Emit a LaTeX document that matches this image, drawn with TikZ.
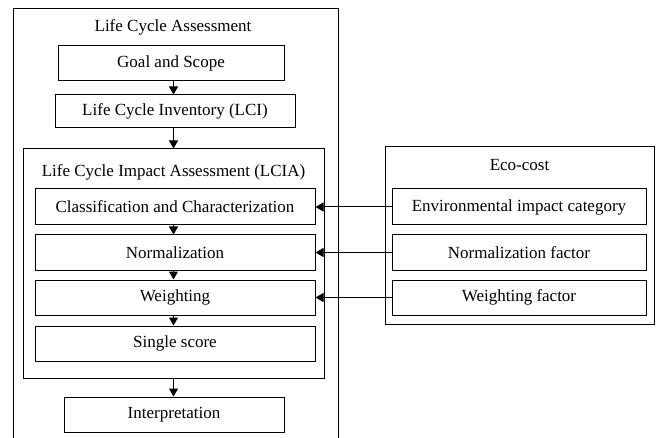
\documentclass[tikz,border=0pt]{standalone}
\usepackage{fontspec}
\setmainfont{Liberation Serif}
\usetikzlibrary{arrows.meta}
\begin{document}
\begin{tikzpicture}[x=1pt,y=-1pt,
  box/.style={draw,line width=1pt,inner sep=0pt,anchor=center,font=\fontsize{17}{19}\selectfont},
  lbl/.style={inner sep=0pt,anchor=center,font=\fontsize{17}{19}\selectfont},
  arr/.style={draw,line width=1pt,-{Triangle[length=8pt,width=9pt]}}]
\useasboundingbox (0,0) rectangle (658,438);
% outer frame (cut off at the bottom)
\draw[line width=1pt] (13,438) -- (13,9) -- (338,9) -- (338,438);
\node[lbl] (lcat) at (173,27) {Life Cycle Assessment};
\node[box,minimum width=226pt,minimum height=35pt] (goal) at (171,63.5) {Goal and Scope};
\node[box,minimum width=240pt,minimum height=33pt] (lci) at (175,111.5) {Life Cycle Inventory (LCI)};
\node[box,minimum width=301pt,minimum height=229pt] (lcia) at (173.5,263.5) {};
\node[lbl] (lciat) at (173.5,172) {Life Cycle Impact Assessment (LCIA)};
\node[box,minimum width=280pt,minimum height=36pt] (cls) at (175,207) {Classification and Characterization};
\node[box,minimum width=280pt,minimum height=35pt] (nrm) at (175,252.5) {Normalization};
\node[box,minimum width=280pt,minimum height=35pt] (wgt) at (175,297.5) {Weighting};
\node[box,minimum width=280pt,minimum height=35pt] (sgl) at (175,343.5) {Single score};
\node[box,minimum width=220pt,minimum height=35pt] (int) at (174,414.5) {Interpretation};
% eco-cost
\node[box,minimum width=269pt,minimum height=177pt] (eco) at (519.5,235.5) {};
\node[lbl] (ecot) at (519.5,165) {Eco-cost};
\node[box,minimum width=254pt,minimum height=36pt] (env) at (519,207) {Environmental impact category};
\node[box,minimum width=254pt,minimum height=35pt] (nf) at (519,252.5) {Normalization factor};
\node[box,minimum width=254pt,minimum height=35pt] (wf) at (519,297.5) {Weighting factor};
% vertical arrows
\draw[arr] (goal.south -| lcia.north) -- (lci.north -| lcia.north);
\draw[arr] (lci.south -| lcia.north) -- (lcia.north);
\draw[arr] (cls.south -| lcia.north) -- (nrm.north -| lcia.north);
\draw[arr] (nrm.south -| lcia.north) -- (wgt.north -| lcia.north);
\draw[arr] (wgt.south -| lcia.north) -- (sgl.north -| lcia.north);
\draw[arr] (lcia.south) -- (int.north -| lcia.south);
% horizontal arrows
\draw[arr] (env.west) -- (cls.east);
\draw[arr] (nf.west) -- (nrm.east);
\draw[arr] (wf.west) -- (wgt.east);
\end{tikzpicture}
\end{document}
